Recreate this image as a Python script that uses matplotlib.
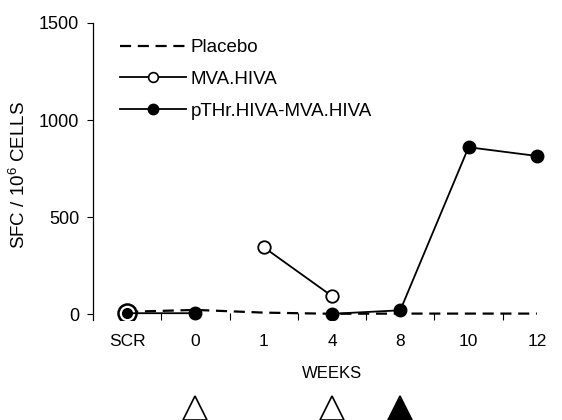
import numpy as np
import matplotlib
matplotlib.use("Agg")
import matplotlib.pyplot as plt
from matplotlib.lines import Line2D
from matplotlib.transforms import blended_transform_factory

plt.rcParams['font.family'] = ['Liberation Sans', 'DejaVu Sans']
plt.rcParams['mathtext.fontset'] = 'custom'
plt.rcParams['mathtext.rm'] = 'Liberation Sans'
plt.rcParams['mathtext.it'] = 'Liberation Sans'

# ---- data ----
categories = ['SCR', '0', '1', '4', '8', '10', '12']
placebo = [12, 22, 8, 2, 3, 3, 3]
mva_hiva = [5, np.nan, 345, 93, np.nan, np.nan, np.nan]
pthr_mva = [5, 5, np.nan, 2, 20, 860, 815]
series_labels = ['Placebo', 'MVA.HIVA', 'pTHr.HIVA-MVA.HIVA']
vacc_open = ['0', '4']      # open triangles
vacc_filled = ['8']         # filled triangle
y_ticks = [0, 500, 1000, 1500]

W, H = 562, 420
fig = plt.figure(figsize=(W / 100, H / 100), dpi=100)
ax_left, ax_right, ax_top, ax_bottom = 93, 571, 23, 320
ax = fig.add_axes([ax_left / W, 1 - ax_bottom / H, (ax_right - ax_left) / W, (ax_bottom - ax_top) / H])

x = np.arange(len(categories))
lw = 1.3
dash = (0, (5, 3))

ax.plot(x, placebo, color='black', lw=1.6, ls=dash, zorder=3)
ax.plot(x, mva_hiva, color='black', lw=lw, marker='o', mfc='white', mec='black', ms=9, mew=1.3,
        markevery=[2, 3], zorder=4)
ax.plot(x[:1], mva_hiva[:1], ls='none', marker='o', mfc='white', mec='black', ms=13, mew=1.8, zorder=5)
ax.plot(x, pthr_mva, color='black', lw=lw, marker='o', mfc='black', mec='black', ms=9,
        markevery=[1, 3, 4, 5, 6], zorder=6)
ax.plot(x[:1], pthr_mva[:1], ls='none', marker='o', mfc='black', mec='black', ms=7, zorder=7)

ax.set_xlim(-0.5, 6.5)
ax.set_ylim(-30, 1500)
ax.set_yticks(y_ticks)
ax.set_yticklabels([str(v) for v in y_ticks])
ax.set_xticks(x)
ax.set_xticklabels(categories)
ax.set_xticks(np.arange(0.5, 6.5, 1.0), minor=True)
ax.tick_params(axis='x', which='major', length=0, pad=10, labelsize=12.5)
ax.tick_params(axis='x', which='minor', length=5, direction='in', width=0.8)
ax.tick_params(axis='y', which='major', length=4, width=0.8, pad=6, labelsize=13)

for s in ['top', 'right', 'bottom']:
    ax.spines[s].set_visible(False)
ax.spines['left'].set_linewidth(0.9)

ax.set_xlabel('WEEKS', fontsize=12, labelpad=12.5)
fig.text(19 / W, 1 - 175 / H, 'SFC / 10$^{6}$ CELLS', rotation=90, ha='center', va='center', fontsize=13.5)

# vaccination triangles
tr = blended_transform_factory(ax.transData, ax.transAxes)
ty = (ax_bottom - 408) / (ax_bottom - ax_top)
for c in vacc_open:
    ax.plot([categories.index(c)], [ty], transform=tr, marker='^', ms=17, mfc='white', mec='black',
            mew=1.2, clip_on=False, ls='none')
for c in vacc_filled:
    ax.plot([categories.index(c)], [ty], transform=tr, marker='^', ms=17, mfc='black', mec='black',
            mew=1.2, clip_on=False, ls='none')

handles = [
    Line2D([], [], color='black', lw=1.6, ls=dash),
    Line2D([], [], color='black', lw=lw, marker='o', mfc='white', mec='black', ms=7, mew=1.2),
    Line2D([], [], color='black', lw=lw, marker='o', mfc='black', mec='black', ms=7.5),
]
leg = ax.legend(handles, series_labels, loc='upper left', bbox_to_anchor=(120 / W, 1 - 39 / H),
                bbox_transform=fig.transFigure, frameon=False, fontsize=13.5, borderpad=0,
                borderaxespad=0, handlelength=3.5, handletextpad=0.28, labelspacing=0.78,
                numpoints=1)

fig.savefig('out.png', dpi=100)
